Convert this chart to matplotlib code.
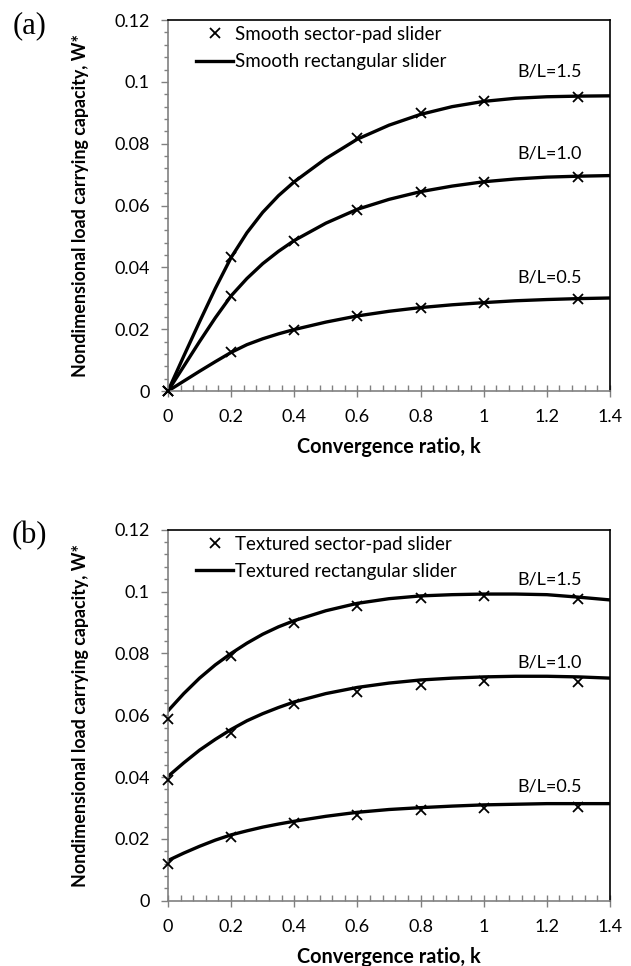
import numpy as np
import matplotlib
matplotlib.use("Agg")
import matplotlib.pyplot as plt
from matplotlib.ticker import MultipleLocator, FuncFormatter
from matplotlib.lines import Line2D

plt.rcParams['font.family'] = ['Lato', 'DejaVu Sans']

# sector-pad points (markers)
k_pts = [0, 0.2, 0.4, 0.6, 0.8, 1.0, 1.3]
# rectangular slider (lines)
k_line = [0, 0.05, 0.1, 0.15, 0.2, 0.25, 0.3, 0.35, 0.4, 0.5, 0.6, 0.7,
          0.8, 0.9, 1.0, 1.1, 1.2, 1.3, 1.4]

# (a) smooth
smooth_pad_15 = [0, 0.0432, 0.0675, 0.0817, 0.0898, 0.0938, 0.0952]
smooth_pad_10 = [0, 0.0306, 0.0486, 0.0587, 0.0645, 0.0677, 0.0691]
smooth_pad_05 = [0, 0.0126, 0.0199, 0.0243, 0.0270, 0.0285, 0.0297]
smooth_rect_15 = [0, 0.0113, 0.0224, 0.0332, 0.0432, 0.0512, 0.0578, 0.0632,
                  0.0677, 0.0752, 0.0815, 0.0860, 0.0895, 0.0920, 0.0937,
                  0.0947, 0.0952, 0.0954, 0.0955]
smooth_rect_10 = [0, 0.0080, 0.0160, 0.0237, 0.0308, 0.0364, 0.0412, 0.0452,
                  0.0487, 0.0543, 0.0588, 0.0620, 0.0645, 0.0663, 0.0677,
                  0.0686, 0.0692, 0.0695, 0.0697]
smooth_rect_05 = [0, 0.0032, 0.0064, 0.0095, 0.0125, 0.0150, 0.0169, 0.0185,
                  0.0199, 0.0223, 0.0243, 0.0258, 0.0270, 0.0279, 0.0286,
                  0.0292, 0.0296, 0.0299, 0.0301]

# (b) textured
tex_pad_15 = [0.0587, 0.0791, 0.0897, 0.0954, 0.0978, 0.0986, 0.0977]
tex_pad_10 = [0.0391, 0.0544, 0.0635, 0.0676, 0.0699, 0.0710, 0.0707]
tex_pad_05 = [0.0119, 0.0205, 0.0251, 0.0276, 0.0292, 0.0301, 0.0303]
tex_rect_15 = [0.0614, 0.0670, 0.0720, 0.0763, 0.0800, 0.0833, 0.0862, 0.0886,
               0.0906, 0.0938, 0.0962, 0.0977, 0.0986, 0.0990, 0.0992,
               0.0992, 0.0990, 0.0982, 0.0973]
tex_rect_10 = [0.0402, 0.0446, 0.0487, 0.0522, 0.0554, 0.0582, 0.0605, 0.0625,
               0.0643, 0.0670, 0.0690, 0.0704, 0.0714, 0.0720, 0.0724,
               0.0726, 0.0726, 0.0724, 0.0720]
tex_rect_05 = [0.0130, 0.0154, 0.0176, 0.0196, 0.0213, 0.0226, 0.0238, 0.0248,
               0.0257, 0.0273, 0.0286, 0.0295, 0.0301, 0.0306, 0.0310,
               0.0312, 0.0314, 0.0314, 0.0314]

ratio_labels = ["B/L=1.5", "B/L=1.0", "B/L=0.5"]
label_y_a = [0.1035, 0.0769, 0.0367]
label_y_b = [0.1038, 0.0770, 0.0370]

panels = [
    ("(a)", [smooth_pad_15, smooth_pad_10, smooth_pad_05],
     [smooth_rect_15, smooth_rect_10, smooth_rect_05],
     "Smooth sector-pad slider", "Smooth rectangular slider", label_y_a),
    ("(b)", [tex_pad_15, tex_pad_10, tex_pad_05],
     [tex_rect_15, tex_rect_10, tex_rect_05],
     "Textured sector-pad slider", "Textured rectangular slider", label_y_b),
]

fig = plt.figure(figsize=(6.31, 9.66), dpi=100)
rects = [[0.2662, 0.5952, 0.7005, 0.384], [0.2662, 0.0676, 0.7005, 0.384]]
fmt = FuncFormatter(lambda v, p: '%g' % round(v, 3))

for rect, (tag, pads, lines, pad_name, rect_name, lab_y) in zip(rects, panels):
    ax = fig.add_axes(rect)
    for pad, line in zip(pads, lines):
        ax.plot(k_line, line, color='black', lw=2.4, solid_joinstyle='round', zorder=2)
        ax.plot(k_pts, pad, ls='none', marker='x', ms=7.5, mew=1.3, color='black',
                zorder=3, clip_on=False)
    for txt, yy in zip(ratio_labels, lab_y):
        ax.text(1.21, yy, txt, ha='center', va='center', fontsize=13)

    ax.set_xlim(0, 1.4)
    ax.set_ylim(0, 0.12)
    ax.xaxis.set_major_locator(MultipleLocator(0.2))
    ax.xaxis.set_minor_locator(MultipleLocator(0.04))
    ax.yaxis.set_major_locator(MultipleLocator(0.02))
    ax.yaxis.set_minor_locator(MultipleLocator(0.004))
    ax.xaxis.set_major_formatter(fmt)
    ax.yaxis.set_major_formatter(fmt)
    ax.tick_params(axis='x', which='major', direction='inout', length=8, width=1,
                   color='#808080', labelsize=13, pad=9)
    ax.tick_params(axis='x', which='minor', direction='in', length=4, width=1,
                   color='#808080')
    ax.tick_params(axis='y', which='major', direction='out', length=5, width=1,
                   color='#808080', labelsize=13, pad=8)
    ax.tick_params(axis='y', which='minor', direction='out', length=3, width=1,
                   color='#808080')
    for s in ['left', 'bottom']:
        ax.spines[s].set_color('#808080')
        ax.spines[s].set_linewidth(1.2)
    for s in ['top', 'right']:
        ax.spines[s].set_color('black')
        ax.spines[s].set_linewidth(1.2)

    ax.set_xlabel("Convergence ratio, k", fontsize=14.3, fontweight='bold')
    ax.xaxis.set_label_coords(0.5, -0.151)
    ax.xaxis.label.set_va('center')
    ax.set_ylabel("Nondimensional load carrying capacity, W*", fontsize=12.9,
                  fontweight='bold')
    ax.yaxis.set_label_coords(-0.199, 0.5)
    ax.yaxis.label.set_va('center')

    handles = [Line2D([], [], ls='none', marker='x', ms=7, mew=1.3, color='black'),
               Line2D([], [], color='black', lw=2.4)]
    ax.legend(handles, [pad_name, rect_name], loc='upper left',
              bbox_to_anchor=(0.063, 0.984), borderaxespad=0, borderpad=0,
              frameon=False, fontsize=13.5, handlelength=2.0,
              handletextpad=0.1, labelspacing=0.54)

    fig.text(0.047, rect[1] + rect[3] - 0.006, tag, fontsize=22,
             family='Liberation Serif', ha='center', va='center')

fig.savefig("out.png", dpi=100)
